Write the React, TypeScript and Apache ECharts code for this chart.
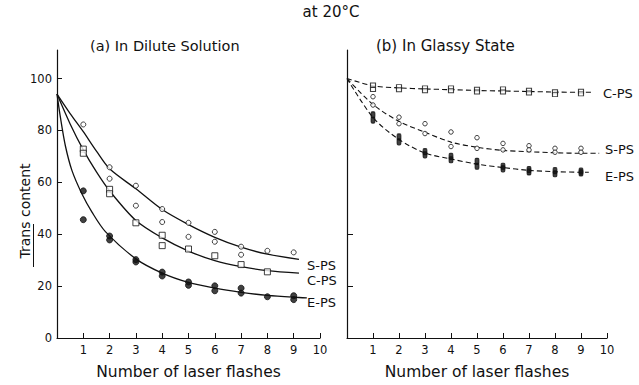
import React, { useEffect, useRef } from 'react';
import * as echarts from 'echarts';

const FONT = 'DejaVu Sans';
const INK = '#111';

// x-axis ticks (number of laser flashes)
const flashTicks = [1, 2, 3, 4, 5, 6, 7, 8, 9, 10];
const transTicks = [0, 20, 40, 60, 80, 100];
const glassyTicks = [20, 40];

// (a) In dilute solution — fitted curves
const dilCurveSX = [0, 0.5, 1, 1.5, 2, 3, 4, 5, 6, 7, 8, 9.2];
const dilCurveSY = [94, 86.5, 79.5, 72, 65.2, 57.5, 49.5, 43.7, 38.8, 35, 32.3, 30.3];
const dilCurveCX = [0, 0.5, 1, 1.5, 2, 3, 4, 5, 6, 7, 8, 9.2];
const dilCurveCY = [94, 82.5, 72.5, 64, 56.7, 45.3, 38.6, 33.5, 29.8, 27.5, 26, 25];
const dilCurveEX = [0, 0.13, 0.32, 0.57, 0.95, 1.33, 1.84, 3, 4, 5, 6, 7, 8, 9, 9.5];
const dilCurveEY = [94, 85, 74, 64.5, 55.5, 48.5, 41, 30.5, 25, 21.4, 19.2, 17.6, 16.4, 15.7, 15.5];

// (a) measured points
const dilSX = [1, 2, 3, 4, 5, 6, 7, 8, 9, 2, 3, 4, 5, 6, 7];
const dilSY = [82.3, 65.8, 58.7, 49.7, 44.4, 40.9, 35.2, 33.6, 33.0, 61.4, 51.0, 44.7, 39.0, 37.1, 32.1];
const dilCX = [1, 1, 2, 2, 3, 4, 4, 5, 6, 7, 8];
const dilCY = [72.8, 71.2, 57.3, 55.6, 44.4, 39.6, 35.6, 34.3, 31.7, 28.3, 25.5];
const dilEX = [1, 1, 2, 2, 3, 3, 4, 4, 5, 5, 6, 6, 7, 7, 8, 9, 9];
const dilEY = [56.7, 45.6, 39.3, 37.8, 30.2, 29.3, 25.4, 23.9, 21.6, 20.3, 20.1, 18.2, 19.2, 17.3, 15.9, 16.3, 14.8];

// (b) In glassy state — dashed guide curves
const glsCurveCX = [0, 1, 2, 3, 4, 5, 6, 7, 8, 9, 9.45];
const glsCurveCY = [100, 97.2, 96.4, 96, 95.7, 95.4, 95.2, 95, 94.8, 94.7, 94.7];
const glsCurveSX = [0, 1, 2, 3, 4, 5, 6, 7, 8, 9, 9.7];
const glsCurveSY = [100, 90, 83.5, 79.3, 75.5, 73.5, 72.3, 71.8, 71.4, 71.2, 71.2];
const glsCurveEX = [0, 1, 2, 3, 4, 5, 6, 7, 8, 9, 9.3];
const glsCurveEY = [100, 85, 76.5, 71.3, 69, 67, 65.7, 64.6, 64.1, 63.9, 63.9];

// (b) measured points
const glsX = [1, 1, 2, 2, 3, 3, 4, 4, 5, 5, 6, 6, 7, 7, 8, 8, 9, 9];
const glsCY = [97.5, 95.8, 96.9, 95.7, 96.4, 95.3, 96.4, 95.3, 95.9, 94.8, 96, 94.8, 95.5, 94.4, 94.9, 93.8, 95.1, 94.1];
const glsSY = [93, 89.8, 85.1, 82.6, 82.6, 78.8, 79.4, 73.8, 77.2, 73.1, 75, 72.5, 74.1, 72.5, 73.1, 71.6, 73.1, 71.6];
const glsEY = [86, 84, 77.5, 75.6, 71.8, 70.6, 70, 68.7, 68.1, 66.2, 66.2, 65.2, 64.9, 64, 64.5, 63.3, 64.3, 63.6];

const pairs = (xs: number[], ys: number[]) => xs.map((x, i) => [x, ys[i]]);

export default function App() {
  const ref = useRef<HTMLDivElement>(null);
  useEffect(() => {
    document.body.style.margin = '0';
    const chart = echarts.init(ref.current!, null, { renderer: 'svg' });

    const xAxisBase = (grid: number) => ({
      type: 'value',
      gridIndex: grid,
      min: 0,
      max: 10,
      axisLine: { lineStyle: { color: INK, width: 1.2 } },
      axisTick: { inside: true, length: 5, customValues: flashTicks, lineStyle: { color: INK } },
      axisLabel: { customValues: flashTicks, color: INK, fontSize: 11.5, fontFamily: FONT, margin: 6 },
      splitLine: { show: false },
      name: 'Number of laser flashes',
      nameLocation: 'middle',
      nameGap: 26,
      nameTextStyle: { color: INK, fontSize: 15.5, fontFamily: FONT },
    });

    const solid = (name: string, xs: number[], ys: number[]) => ({
      type: 'line', name, xAxisIndex: 0, yAxisIndex: 0, data: pairs(xs, ys),
      smooth: 0.3, symbol: 'none', lineStyle: { color: INK, width: 1.3 }, z: 2,
    });
    const dashed = (name: string, xs: number[], ys: number[]) => ({
      type: 'line', name, xAxisIndex: 1, yAxisIndex: 1, data: pairs(xs, ys),
      smooth: 0.3, symbol: 'none', lineStyle: { color: INK, width: 1.1, type: [5, 3] }, z: 2,
    });
    const pts = (name: string, axis: number, xs: number[], ys: number[], symbol: string, size: any, filled: boolean) => ({
      type: 'scatter', name, xAxisIndex: axis, yAxisIndex: axis, data: pairs(xs, ys),
      symbol, symbolSize: size,
      itemStyle: { color: filled ? INK : '#fff', borderColor: INK, borderWidth: 1 }, z: 3,
    });

    const txt = (text: string, x: number, y: number, size: number, align = 'left', extra: any = {}) => ({
      type: 'text', x, y, ...extra,
      style: { text, fill: INK, fontSize: size, fontFamily: FONT, textAlign: align, textVerticalAlign: 'middle' },
    });

    chart.setOption({
      animation: false,
      backgroundColor: '#fff',
      grid: [
        { left: 57, top: 50, width: 263, height: 293 },
        { left: 347, top: 50, width: 260, height: 293 },
      ],
      xAxis: [xAxisBase(0), xAxisBase(1)],
      yAxis: [
        {
          type: 'value', gridIndex: 0, min: 0, max: 111,
          axisLine: { show: true, lineStyle: { color: INK, width: 1.2 } },
          axisTick: { show: true, inside: true, length: 5, customValues: transTicks, lineStyle: { color: INK } },
          axisLabel: { customValues: transTicks, color: INK, fontSize: 11.5, fontFamily: FONT, margin: 5 },
          splitLine: { show: false },
        },
        {
          type: 'value', gridIndex: 1, min: 0, max: 111,
          axisLine: { show: true, lineStyle: { color: INK, width: 1.2 } },
          axisTick: { show: true, inside: true, length: 6, customValues: glassyTicks, lineStyle: { color: INK } },
          axisLabel: { show: false },
          splitLine: { show: false },
        },
      ],
      series: [
        solid('S-PS fit', dilCurveSX, dilCurveSY),
        solid('C-PS fit', dilCurveCX, dilCurveCY),
        solid('E-PS fit', dilCurveEX, dilCurveEY),
        pts('S-PS', 0, dilSX, dilSY, 'circle', 5, false),
        pts('C-PS', 0, dilCX, dilCY, 'rect', 6, false),
        pts('E-PS', 0, dilEX, dilEY, 'circle', 6, true),
        dashed('C-PS guide', glsCurveCX, glsCurveCY),
        dashed('S-PS guide', glsCurveSX, glsCurveSY),
        dashed('E-PS guide', glsCurveEX, glsCurveEY),
        pts('C-PS glassy', 1, glsX, glsCY, 'rect', [5, 4], false),
        pts('S-PS glassy', 1, glsX, glsSY, 'circle', 4.5, false),
        pts('E-PS glassy', 1, glsX, glsEY, 'roundRect', [4, 6], true),
      ],
      graphic: [
        txt('at 20°C', 331, 12, 15, 'center'),
        txt('(a) In Dilute Solution', 90, 46, 14.5),
        txt('(b) In Glassy State', 376, 46, 15),
        txt('Trans content', 25, 211, 14, 'center', { rotation: Math.PI / 2 }),
        { type: 'line', shape: { x1: 33.5, y1: 224, x2: 33.5, y2: 267 }, style: { stroke: INK, lineWidth: 1 } },
        txt('S-PS', 307, 265, 13),
        txt('C-PS', 307, 280, 13),
        txt('E-PS', 307, 302, 13),
        txt('C-PS', 603, 93, 13),
        txt('S-PS', 605, 149, 13),
        txt('E-PS', 605, 176, 13),
      ],
    });
    return () => chart.dispose();
  }, []);
  return <div ref={ref} style={{ width: 639, height: 385, position: 'absolute', left: 0, top: 0 }} />;
}
